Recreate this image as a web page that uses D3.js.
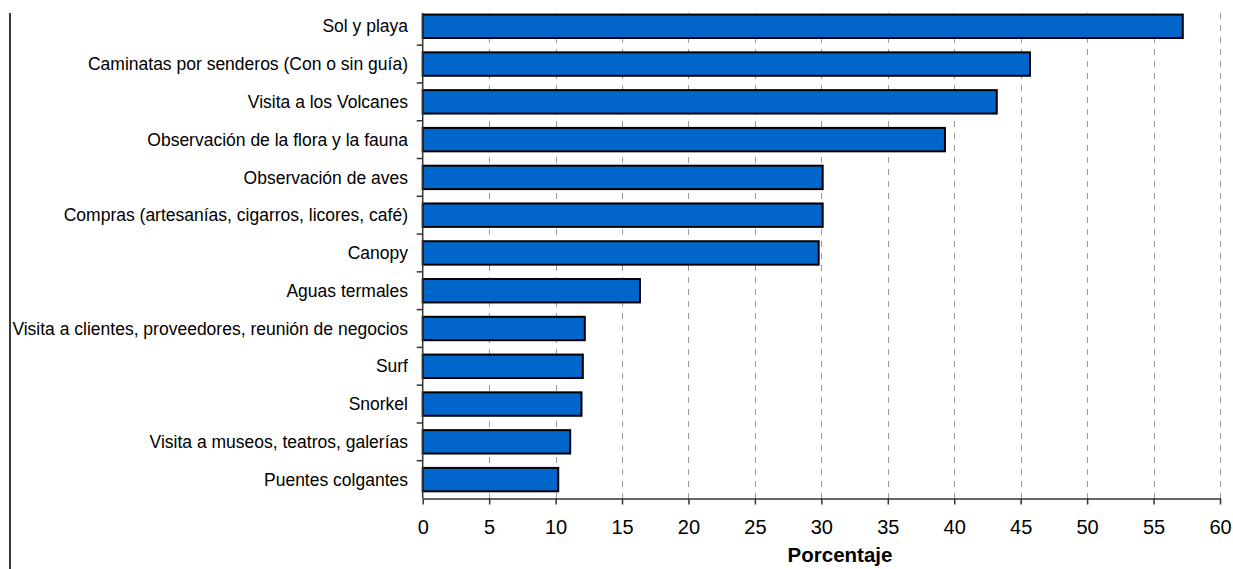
<!DOCTYPE html>
<html><head><meta charset="utf-8">
<script src="https://cdn.jsdelivr.net/npm/d3@7"></script>
<style>body{margin:0;background:#fff;}svg{display:block;font-family:"Liberation Sans",Arial,sans-serif;}</style>
</head><body><svg id="c" width="1233" height="569"></svg>
<script>
const categories = ["Sol y playa","Caminatas por senderos (Con o sin guía)","Visita a los Volcanes","Observación de la flora y la fauna","Observación de aves","Compras (artesanías, cigarros, licores, café)","Canopy","Aguas termales","Visita a clientes, proveedores, reunión de negocios","Surf","Snorkel","Visita a museos, teatros, galerías","Puentes colgantes"];
const values = [57.2,45.7,43.2,39.3,30.1,30.1,29.8,16.35,12.2,12.05,11.95,11.1,10.2];
const xTicks = [0,5,10,15,20,25,30,35,40,45,50,55,60];
const xTitle = "Porcentaje";

const svg = d3.select("#c");
const x = d3.scaleLinear().domain([0,60]).range([422.7,1220]);
const y = d3.scaleBand().domain(categories).range([7.4,498.5]).paddingInner(0.38).paddingOuter(0.19);
const plotTop = 13, plotBottom = 498.5;

// left border line
svg.append("line").attr("x1",10).attr("x2",10).attr("y1",13).attr("y2",569).attr("stroke","#222").attr("stroke-width",1.8);

// gridlines
svg.append("g").selectAll("line").data(xTicks.slice(1)).join("line")
  .attr("x1",d=>Math.round(x(d))+0.5).attr("x2",d=>Math.round(x(d))+0.5)
  .attr("y1",plotTop).attr("y2",plotBottom)
  .attr("stroke","#999").attr("stroke-width",1).attr("stroke-dasharray","6,6");

// bars
svg.append("g").selectAll("rect").data(categories).join("rect")
  .attr("x",x(0)).attr("y",d=>y(d))
  .attr("width",(d,i)=>x(values[i])-x(0)).attr("height",y.bandwidth())
  .attr("fill","#0066CC").attr("stroke","#000").attr("stroke-width",2);

// y axis
svg.append("line").attr("x1",x(0)).attr("x2",x(0)).attr("y1",plotTop).attr("y2",plotBottom).attr("stroke","#333").attr("stroke-width",1.5);
const step = y.step();
const bounds = categories.slice(1).map(c => y(c) - step*y.paddingInner()/2);
svg.append("g").selectAll("line").data(bounds).join("line")
  .attr("x1",x(0)-6).attr("x2",x(0)).attr("y1",d=>d).attr("y2",d=>d).attr("stroke","#333").attr("stroke-width",1.5);
svg.append("g").selectAll("text").data(categories).join("text")
  .attr("x",408).attr("y",d=>y(d)+y.bandwidth()/2).attr("dy","0.35em")
  .attr("text-anchor","end").attr("font-size",17.5).attr("fill","#000").text(d=>d);

// x axis
const xa = svg.append("g").attr("transform",`translate(0,${plotBottom})`)
  .call(d3.axisBottom(x).tickValues(xTicks).tickSize(6).tickSizeOuter(0).tickFormat(d3.format("d")));
xa.select(".domain").attr("stroke","#333").attr("stroke-width",1.5);
xa.selectAll(".tick line").attr("stroke","#333").attr("stroke-width",1.5);
xa.selectAll(".tick text").attr("font-size",20).attr("font-family","Liberation Sans, Arial, sans-serif").attr("fill","#000").attr("y",0).attr("dy",0).attr("transform","translate(0,35.5)");

svg.append("text").attr("x",840).attr("y",562).attr("text-anchor","middle")
  .attr("font-size",20.5).attr("font-weight","bold").attr("fill","#000").text(xTitle);
</script></body></html>
